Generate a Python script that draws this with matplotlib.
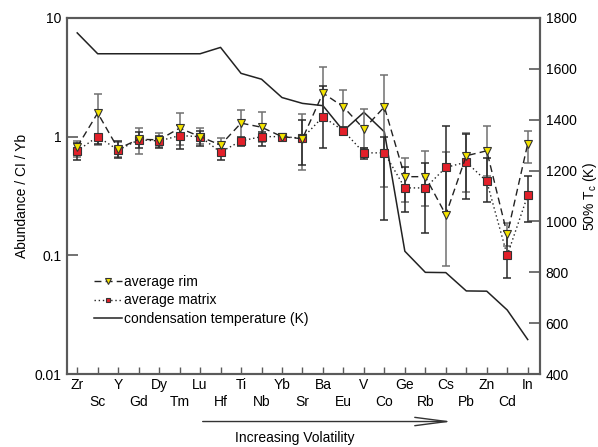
import matplotlib
matplotlib.use("Agg")
import matplotlib.pyplot as plt
from matplotlib.ticker import FixedLocator, FixedFormatter, NullLocator

plt.rcParams['font.family'] = ['Liberation Sans', 'DejaVu Sans']
plt.rcParams['font.size'] = 10
plt.rcParams['mathtext.fontset'] = 'custom'
plt.rcParams['mathtext.rm'] = 'Liberation Sans'
plt.rcParams['mathtext.it'] = 'Liberation Sans:italic'

elements = ['Zr', 'Sc', 'Y', 'Gd', 'Dy', 'Tm', 'Lu', 'Hf', 'Ti', 'Nb', 'Yb', 'Sr',
            'Ba', 'Eu', 'V', 'Co', 'Ge', 'Rb', 'Cs', 'Pb', 'Zn', 'Cd', 'In']
rim = [0.82, 1.58, 0.79, 0.95, 0.94, 1.18, 1.0, 0.85, 1.30, 1.20, 1.0, 0.96,
       2.33, 1.78, 1.16, 1.78, 0.46, 0.46, 0.22, 0.69, 0.76, 0.15, 0.87]
matrix = [0.76, 1.0, 0.77, 0.94, 0.92, 1.02, 1.0, 0.74, 0.92, 1.0, 1.0, 0.97,
          1.47, 1.12, 0.73, 0.73, 0.37, 0.37, 0.55, 0.61, 0.42, 0.10, 0.32]
rim_lo = [0.68, 0.85, 0.68, 0.72, 0.82, 0.85, 0.86, 0.74, 0.95, 0.90, 0.95, 0.52,
          1.41, 1.20, 0.81, 0.38, 0.28, 0.26, 0.081, 0.34, 0.47, 0.12, 0.60]
rim_hi = [0.92, 2.30, 0.90, 1.18, 1.07, 1.58, 1.18, 0.98, 1.68, 1.62, 1.05, 1.55,
          3.87, 2.47, 1.71, 3.30, 0.66, 0.76, 0.74, 1.07, 1.23, 0.187, 1.12]
mat_lo = [0.64, 0.86, 0.66, 0.80, 0.80, 0.79, 0.83, 0.64, 0.83, 0.83, 0.95, 0.58,
          0.80, 1.03, 0.65, 0.20, 0.23, 0.155, 0.23, 0.30, 0.28, 0.064, 0.19]
mat_hi = [0.88, 1.05, 0.92, 1.10, 1.02, 1.25, 1.12, 0.86, 1.00, 1.10, 1.05, 1.38,
          2.65, 1.20, 0.81, 1.00, 0.55, 0.60, 1.23, 1.05, 0.66, 0.16, 0.47]
tc = [1741, 1659, 1659, 1659, 1659, 1659, 1659, 1684, 1582, 1559, 1487, 1464,
      1455, 1356, 1429, 1352, 883, 800, 799, 727, 726, 652, 536]

left_ticks = [0.01, 0.1, 1, 10]
left_labels = ['0.01', '0.1', '1', '10']
right_ticks = [400, 600, 800, 1000, 1200, 1400, 1600, 1800]

x = list(range(len(elements)))
spine_c = '#5a5a5a'

fig = plt.figure(figsize=(5.98, 4.47), dpi=100)
ax1 = fig.add_axes([0.112, 0.163, 0.791, 0.797])
ax2 = ax1.twinx()
ax1.set_zorder(2)
ax1.patch.set_visible(False)

# condensation temperature
l3, = ax2.plot(x, tc, color='#222222', lw=1.1, label='condensation temperature (K)')
ax2.set_ylim(400, 1800)
ax2.yaxis.set_major_locator(FixedLocator(right_ticks))

# error bars
rim_err = [[r - lo for r, lo in zip(rim, rim_lo)], [hi - r for r, hi in zip(rim, rim_hi)]]
mat_err = [[m - lo for m, lo in zip(matrix, mat_lo)], [hi - m for m, hi in zip(matrix, mat_hi)]]
ax1.errorbar(x, rim, yerr=rim_err, fmt='none', ecolor='#707070', elinewidth=1.1,
             capsize=3, capthick=1.1, zorder=2)
ax1.errorbar(x, matrix, yerr=mat_err, fmt='none', ecolor='#2a2a2a', elinewidth=1.1,
             capsize=3, capthick=1.1, zorder=2)

l1, = ax1.plot(x, rim, color='#222222', lw=1.0, dashes=(5, 3), marker='v',
               markersize=6, markerfacecolor='#f5e400', markeredgecolor='#333333',
               markeredgewidth=0.8, label='average rim', zorder=4)
l2, = ax1.plot(x, matrix, color='#222222', lw=1.0, dashes=(1, 2), marker='s',
               markersize=5.5, markerfacecolor='#e3202a', markeredgecolor='#333333',
               markeredgewidth=0.8, label='average matrix', zorder=3)

ax1.set_yscale('log')
ax1.set_ylim(0.01, 10)
ax1.yaxis.set_major_locator(FixedLocator(left_ticks))
ax1.yaxis.set_major_formatter(FixedFormatter(left_labels))
ax1.yaxis.set_minor_locator(NullLocator())
ax1.set_xlim(-0.5, 22.6)
ax1.set_xticks(x)
ax1.set_xticklabels([e if i % 2 == 0 else '\n' + e for i, e in enumerate(elements)])

for ax in (ax1, ax2):
    for s in ax.spines.values():
        s.set_color(spine_c)
        s.set_linewidth(1.5)
ax1.tick_params(axis='y', direction='in', length=8, width=1.2, color=spine_c, pad=4)
ax1.tick_params(axis='x', direction='in', length=5, width=1.0, color=spine_c, pad=3)
ax2.tick_params(axis='y', direction='in', length=8, width=1.2, color=spine_c, pad=4)

ax1.set_ylabel('Abundance / CI / Yb', labelpad=4)
ax2.set_ylabel(r'50% T$_\mathrm{c}$ (K)', labelpad=3)

leg = ax1.legend(handles=[l1, l2, l3], loc='upper left', bbox_to_anchor=(0.045, 0.293),
                 frameon=False, handlelength=2.0, handletextpad=0.2, labelspacing=0.3,
                 markerscale=0.65, borderaxespad=0)

ax1.annotate('', xy=(0.82, -0.133), xytext=(0.281, -0.133), xycoords='axes fraction',
             arrowprops=dict(arrowstyle='->,head_length=2.3,head_width=0.3',
                             color='#333333', lw=1.0), annotation_clip=False)
ax1.text(0.482, -0.178, 'Increasing Volatility', transform=ax1.transAxes,
         ha='center', va='center')

fig.savefig('out.png', dpi=100)
